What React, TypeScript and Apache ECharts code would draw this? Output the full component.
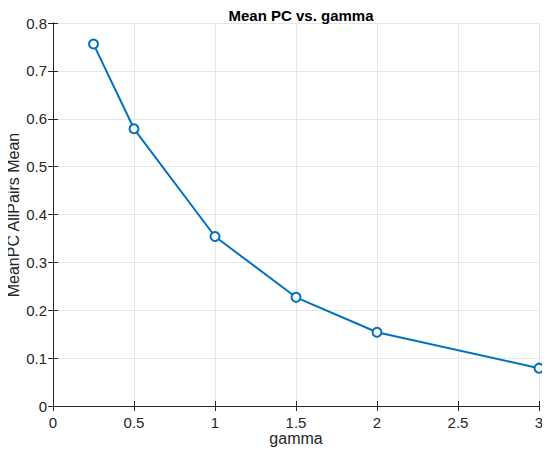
import React, { useEffect, useRef } from "react";
import * as echarts from "echarts";

const gammaValues = [0.25, 0.5, 1, 1.5, 2, 3];
const meanPC = [0.756, 0.579, 0.354, 0.227, 0.154, 0.079];
const titleText = "Mean PC vs. gamma";
const xName = "gamma";
const yName = "MeanPC AllPairs Mean";

export default function App() {
  const ref = useRef<HTMLDivElement>(null);
  useEffect(() => {
    if (!ref.current) return;
    const chart = echarts.init(ref.current, null, { renderer: "svg" });
    const axisColor = "#262626";
    const font = "Liberation Sans, Arial, sans-serif";
    chart.setOption({
      animation: false,
      backgroundColor: "#ffffff",
      title: {
        text: titleText,
        left: 296,
        top: 3,
        textAlign: "center",
        textStyle: { fontSize: 15, fontWeight: "bold", color: "#000", fontFamily: font },
      },
      graphic: [
        {
          type: "text",
          x: 13,
          y: 215,
          rotation: Math.PI / 2,
          style: {
            text: yName,
            fontSize: 16,
            fontFamily: font,
            fill: axisColor,
            align: "center",
            verticalAlign: "middle",
          },
        },
      ],
      grid: { left: 53, top: 23, right: 11, bottom: 53, containLabel: false, outerBoundsMode: "none" },
      xAxis: [
        {
          type: "value",
          min: 0,
          max: 3,
          interval: 0.5,
          name: xName,
          nameLocation: "middle",
          nameGap: 24,
          nameMoveOverlap: false,
          nameTextStyle: { fontSize: 16, color: axisColor, fontFamily: font },
          axisLine: { show: true, onZero: false, lineStyle: { color: axisColor, width: 1 } },
          axisTick: { show: true, inside: true, length: 5, lineStyle: { color: axisColor } },
          axisLabel: { fontSize: 15, color: axisColor, fontFamily: font, margin: 9 },
          splitLine: { show: true, lineStyle: { color: "#e6e6e6", width: 1 } },
        },
        {
          type: "value",
          position: "top",
          min: 0,
          max: 3,
          interval: 0.5,
          axisLine: { show: true, lineStyle: { color: axisColor, width: 1 } },
          axisTick: { show: true, inside: true, length: 5, lineStyle: { color: axisColor } },
          axisLabel: { show: false },
          splitLine: { show: false },
        },
      ],
      yAxis: [
        {
          type: "value",
          min: 0,
          max: 0.8,
          interval: 0.1,
          axisLine: { show: true, lineStyle: { color: axisColor, width: 1 } },
          axisTick: { show: true, inside: true, length: 5, lineStyle: { color: axisColor } },
          axisLabel: {
            fontSize: 15,
            color: axisColor,
            fontFamily: font,
            margin: 6,
            formatter: (v: number) => (v === 0 ? "0" : String(Math.round(v * 10) / 10)),
          },
          splitLine: { show: true, lineStyle: { color: "#e6e6e6", width: 1 } },
        },
        {
          type: "value",
          position: "right",
          min: 0,
          max: 0.8,
          interval: 0.1,
          axisLine: { show: true, lineStyle: { color: axisColor, width: 1 } },
          axisTick: { show: true, inside: true, length: 5, lineStyle: { color: axisColor } },
          axisLabel: { show: false },
          splitLine: { show: false },
        },
      ],
      series: [
        {
          type: "line",
          data: gammaValues.map((g, i) => [g, meanPC[i]]),
          symbol: "circle",
          symbolSize: 9,
          itemStyle: { color: "#ffffff", borderColor: "#0072BD", borderWidth: 2 },
          lineStyle: { color: "#0072BD", width: 2 },
          clip: false,
          z: 5,
        },
      ],
    });
    return () => chart.dispose();
  }, []);
  return <div ref={ref} style={{ width: 550, height: 459, margin: -8 }} />;
}
